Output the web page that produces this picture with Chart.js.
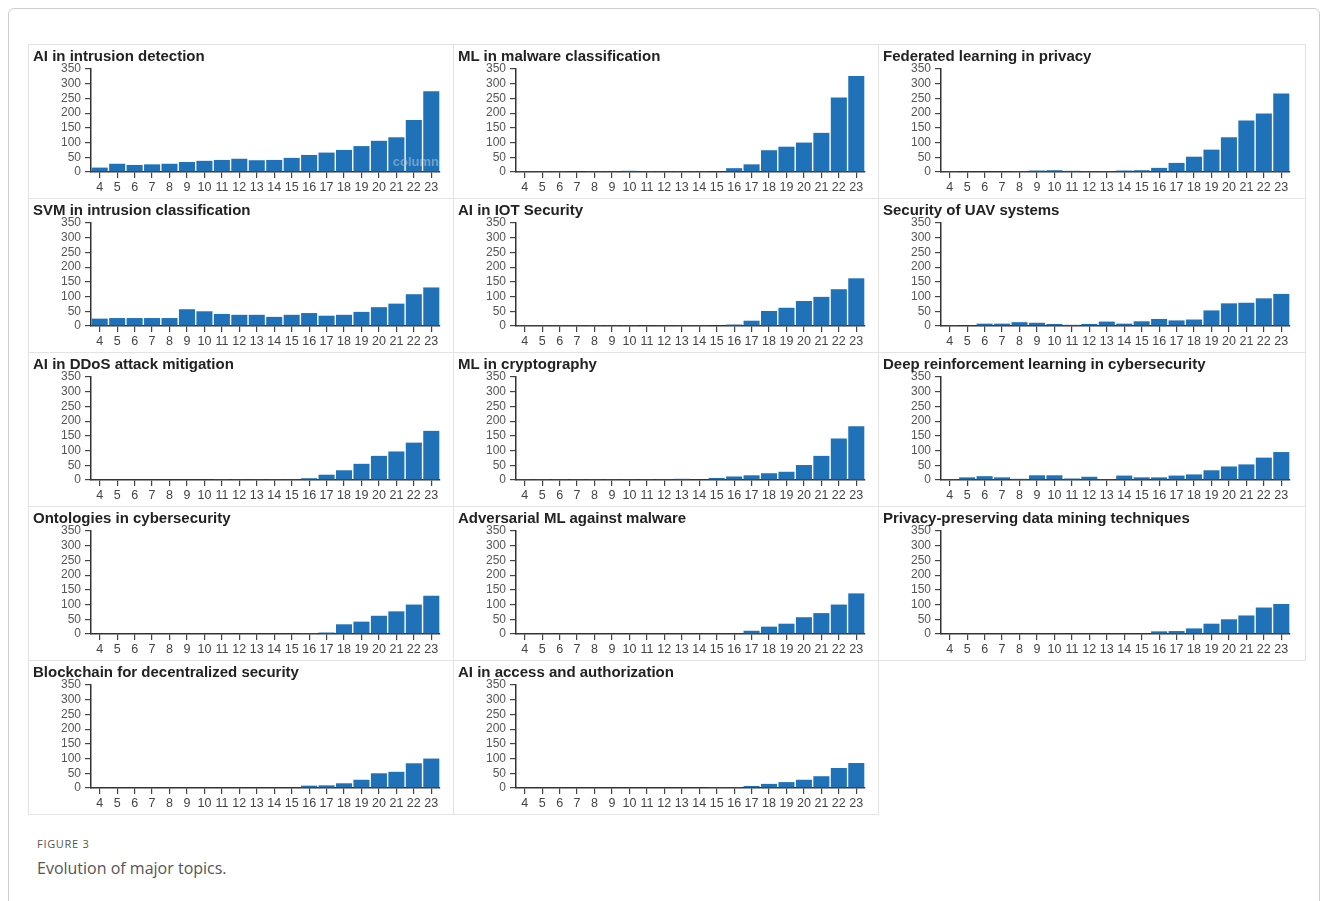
<!DOCTYPE html>
<html>
<head>
<meta charset="utf-8">
<script src="https://cdn.jsdelivr.net/npm/chart.js@4.4.1/dist/chart.umd.min.js"></script>
<style>
  body { margin: 0; background: #fff; width: 1328px; height: 901px; overflow: hidden; position: relative; }
  #frame { position: absolute; left: 8px; top: 8px; width: 1310px; height: 905px; border: 1px solid #cfcfcf; border-radius: 6px; }
  .panel { position: absolute; width: 426px; height: 155px; border: 1px solid #e3e3e3; box-sizing: border-box; }
  .panel canvas { position: absolute; left: -1px; top: -1px; }
  .panel .ttl { position: absolute; left: 4px; top: 2px; font: bold 15px "Liberation Sans", Arial, sans-serif; color: #222; white-space: nowrap; }
  #figno { position: absolute; left: 37px; top: 836px; font: 11px "Open Sans", sans-serif; letter-spacing: 0.7px; color: #555; }
  #figcap { position: absolute; left: 37px; top: 857px; font: 16px "Open Sans", sans-serif; color: #555; }
</style>
</head>
<body>
<div id="frame"></div>
<div id="grid"></div>
<div id="figno">FIGURE 3</div>
<div id="figcap">Evolution of major topics.</div>
<script>
// years (20xx)
var years = ["4","5","6","7","8","9","10","11","12","13","14","15","16","17","18","19","20","21","22","23"];
var yTicks = [0, 50, 100, 150, 200, 250, 300, 350];

var intrusionDetection   = [15, 28, 24, 26, 28, 34, 38, 41, 45, 40, 41, 48, 58, 66, 75, 88, 106, 118, 177, 274];
var malwareClass         = [1, 1, 1, 2, 1, 1, 4, 1, 1, 3, 1, 2, 13, 26, 74, 86, 100, 133, 253, 326];
var federatedPrivacy     = [1, 2, 2, 2, 3, 5, 6, 4, 3, 3, 5, 6, 14, 31, 52, 76, 118, 175, 199, 267];
var svmIntrusion         = [25, 27, 27, 27, 27, 57, 50, 41, 38, 38, 31, 38, 44, 35, 38, 48, 64, 76, 108, 131];
var iotSecurity          = [1, 1, 1, 1, 1, 1, 1, 2, 1, 1, 3, 2, 5, 18, 51, 62, 85, 99, 125, 162];
var uavSecurity          = [1, 2, 8, 8, 13, 11, 7, 4, 7, 15, 8, 16, 24, 19, 22, 53, 77, 79, 94, 109];
var ddosMitigation       = [0, 0, 0, 0, 0, 0, 0, 1, 1, 1, 1, 3, 6, 18, 33, 55, 82, 97, 127, 167];
var cryptography         = [1, 1, 1, 1, 3, 1, 1, 1, 3, 4, 2, 7, 12, 16, 23, 28, 51, 82, 141, 183];
var deepRL               = [3, 9, 13, 9, 4, 16, 16, 5, 11, 3, 15, 9, 9, 15, 19, 33, 46, 53, 76, 95];
var ontologies           = [0, 0, 0, 0, 0, 0, 0, 0, 0, 0, 0, 0, 1, 5, 33, 42, 62, 77, 100, 130];
var adversarialML        = [0, 0, 0, 0, 0, 0, 0, 0, 0, 0, 0, 0, 0, 11, 25, 35, 57, 71, 100, 138];
var privacyMining        = [0, 0, 0, 0, 0, 0, 0, 0, 0, 0, 0, 2, 9, 10, 19, 35, 50, 63, 90, 102];
var blockchainSecurity   = [0, 0, 0, 0, 0, 0, 0, 0, 0, 0, 0, 2, 8, 9, 16, 28, 50, 55, 84, 100];
var accessAuthorization  = [0, 0, 0, 0, 0, 0, 0, 0, 0, 0, 0, 1, 3, 7, 14, 20, 28, 40, 68, 85];

var titles = [
  "AI in intrusion detection", "ML in malware classification", "Federated learning in privacy",
  "SVM in intrusion classification", "AI in IOT Security", "Security of UAV systems",
  "AI in DDoS attack mitigation", "ML in cryptography", "Deep reinforcement learning in cybersecurity",
  "Ontologies in cybersecurity", "Adversarial ML against malware", "Privacy-preserving data mining techniques",
  "Blockchain for decentralized security", "AI in access and authorization"
];
var series = [
  intrusionDetection, malwareClass, federatedPrivacy,
  svmIntrusion, iotSecurity, uavSecurity,
  ddosMitigation, cryptography, deepRL,
  ontologies, adversarialML, privacyMining,
  blockchainSecurity, accessAuthorization
];

// faint tool watermark seen on the first panel
var watermark = {
  id: 'watermark',
  afterDatasetsDraw: function(chart, args, opts) {
    if (!opts.text) return;
    var c = chart.ctx, a = chart.chartArea;
    c.save();
    c.font = 'bold 13px "Liberation Sans", Arial, sans-serif';
    c.fillStyle = 'rgba(175,190,205,0.6)';
    c.textAlign = 'right';
    c.textBaseline = 'middle';
    c.fillText(opts.text, a.right - 1, a.bottom - 10);
    c.restore();
  }
};

var grid = document.getElementById('grid');
titles.forEach(function(t, i) {
  var col = i % 3, row = Math.floor(i / 3);
  var div = document.createElement('div');
  div.className = 'panel';
  div.style.left = (28 + col * 425) + 'px';
  div.style.top = (44 + row * 154) + 'px';
  if (col == 2) div.style.width = '428px';
  var cv = document.createElement('canvas');
  cv.width = col == 2 ? 427 : 425;
  cv.height = 154;
  div.appendChild(cv);
  var h = document.createElement('div');
  h.className = 'ttl';
  h.textContent = t;
  div.appendChild(h);
  grid.appendChild(div);

  new Chart(cv, {
    type: 'bar',
    data: {
      labels: years,
      datasets: [{
        data: series[i],
        backgroundColor: '#1f72b8',
        barPercentage: 1,
        categoryPercentage: 0.92
      }]
    },
    plugins: [watermark],
    options: {
      responsive: false,
      animation: false,
      layout: { padding: { top: 25, right: col == 2 ? 15 : 13, left: 0, bottom: 0 } },
      plugins: {
        legend: { display: false },
        tooltip: { enabled: false },
        watermark: { text: i == 0 ? 'column' : '' }
      },
      scales: {
        x: {
          ticks: { color: '#444', font: { family: 'Liberation Sans', size: 12.5 }, padding: 2, autoSkip: false, maxRotation: 0 },
          grid: { offset: false, drawOnChartArea: false, tickLength: 6, color: '#444', lineWidth: 1.2 },
          border: { display: true, color: '#333', width: 1.5 },
          afterFit: function(s) { s.height = 26; }
        },
        y: {
          min: 0, max: 350,
          afterBuildTicks: function(s) { s.ticks = yTicks.map(function(v) { return { value: v }; }); },
          ticks: { color: '#555', font: { family: 'Liberation Sans', size: 12, lineHeight: 1 }, padding: 4, autoSkip: false },
          grid: { drawOnChartArea: false, tickLength: 6, color: '#444', lineWidth: 1.2 },
          border: { display: true, color: '#333', width: 1.5 },
          afterFit: function(s) { s.width = 63; }
        }
      }
    }
  });
});
</script>
</body>
</html>
